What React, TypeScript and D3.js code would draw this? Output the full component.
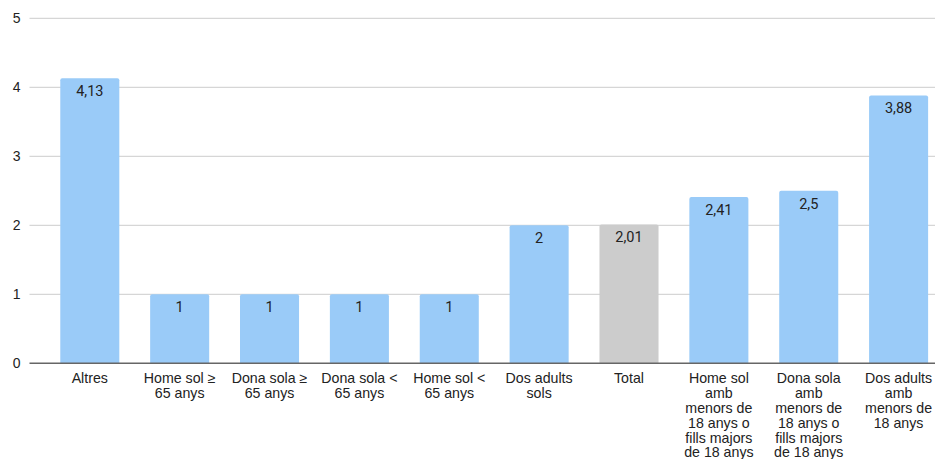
import React from "react";
import * as d3 from "d3";

const categories: string[] = [
  "Altres",
  "Home sol ≥\n65 anys",
  "Dona sola ≥\n65 anys",
  "Dona sola <\n65 anys",
  "Home sol <\n65 anys",
  "Dos adults\nsols",
  "Total",
  "Home sol\namb\nmenors de\n18 anys o\nfills majors\nde 18 anys",
  "Dona sola\namb\nmenors de\n18 anys o\nfills majors\nde 18 anys",
  "Dos adults\namb\nmenors de\n18 anys",
];
const values: number[] = [4.13, 1, 1, 1, 1, 2, 2.01, 2.41, 2.5, 3.88];
const valueLabels: string[] = ["4,13", "1", "1", "1", "1", "2", "2,01", "2,41", "2,5", "3,88"];
const yTicks: number[] = [0, 1, 2, 3, 4, 5];
const highlight = "Total";

const W = 935;
const H = 459;

export default function App() {
  const x = d3.scaleBand<string>().domain(categories).range([45, 943.4]).paddingInner(0.343).paddingOuter(0.17);
  const y = d3.scaleLinear().domain([0, 5]).range([363.3, 18.3]);
  const bw = x.bandwidth();
  const r = 2;
  const barPath = (x0: number, y0: number, w: number, y1: number) => {
    const p = d3.path();
    p.moveTo(x0, y1);
    p.lineTo(x0, y0 + r);
    p.quadraticCurveTo(x0, y0, x0 + r, y0);
    p.lineTo(x0 + w - r, y0);
    p.quadraticCurveTo(x0 + w, y0, x0 + w, y0 + r);
    p.lineTo(x0 + w, y1);
    p.closePath();
    return p.toString();
  };
  return (
    <div style={{ position: "absolute", left: 0, top: 0 }}>
      <svg width={W} height={H} style={{ display: "block", background: "#fff" }}>
        {yTicks.map((t) => (
          <g key={t}>
            {t !== 0 && (
              <line x1={29.5} x2={W} y1={y(t)} y2={y(t)} stroke="#cccccc" strokeWidth={1} />
            )}
            <text
              x={20.5}
              y={y(t)}
              dy="0.35em"
              textAnchor="end"
              fontFamily="'Liberation Sans', Arial, sans-serif"
              fontSize={14}
              fill="#222"
            >
              {t}
            </text>
          </g>
        ))}
        {categories.map((c, i) => {
          const x0 = x(c)!;
          return (
            <g key={c}>
              <path
                d={barPath(x0, y(values[i]), bw, y(0))}
                fill={c === highlight ? "#cccccc" : "#9acbf8"}
              />
              <text
                x={x0 + bw / 2}
                y={y(values[i]) + 12.8}
                dy="0.35em"
                textAnchor="middle"
                fontFamily="Roboto, 'Liberation Sans', sans-serif"
                fontSize={14.5}
                fill="#222"
              >
                {valueLabels[i]}
              </text>
              {c.split("\n").map((ln, j) => (
                <text
                  key={j}
                  x={x0 + bw / 2}
                  y={378.5 + j * 14.8}
                  dy="0.35em"
                  textAnchor="middle"
                  fontFamily="'Liberation Sans', Arial, sans-serif"
                  fontSize={14.2}
                  fill="#222"
                >
                  {ln}
                </text>
              ))}
            </g>
          );
        })}
        <line x1={29.5} x2={W} y1={y(0)} y2={y(0)} stroke="#666" strokeWidth={1.5} />
      </svg>
    </div>
  );
}
